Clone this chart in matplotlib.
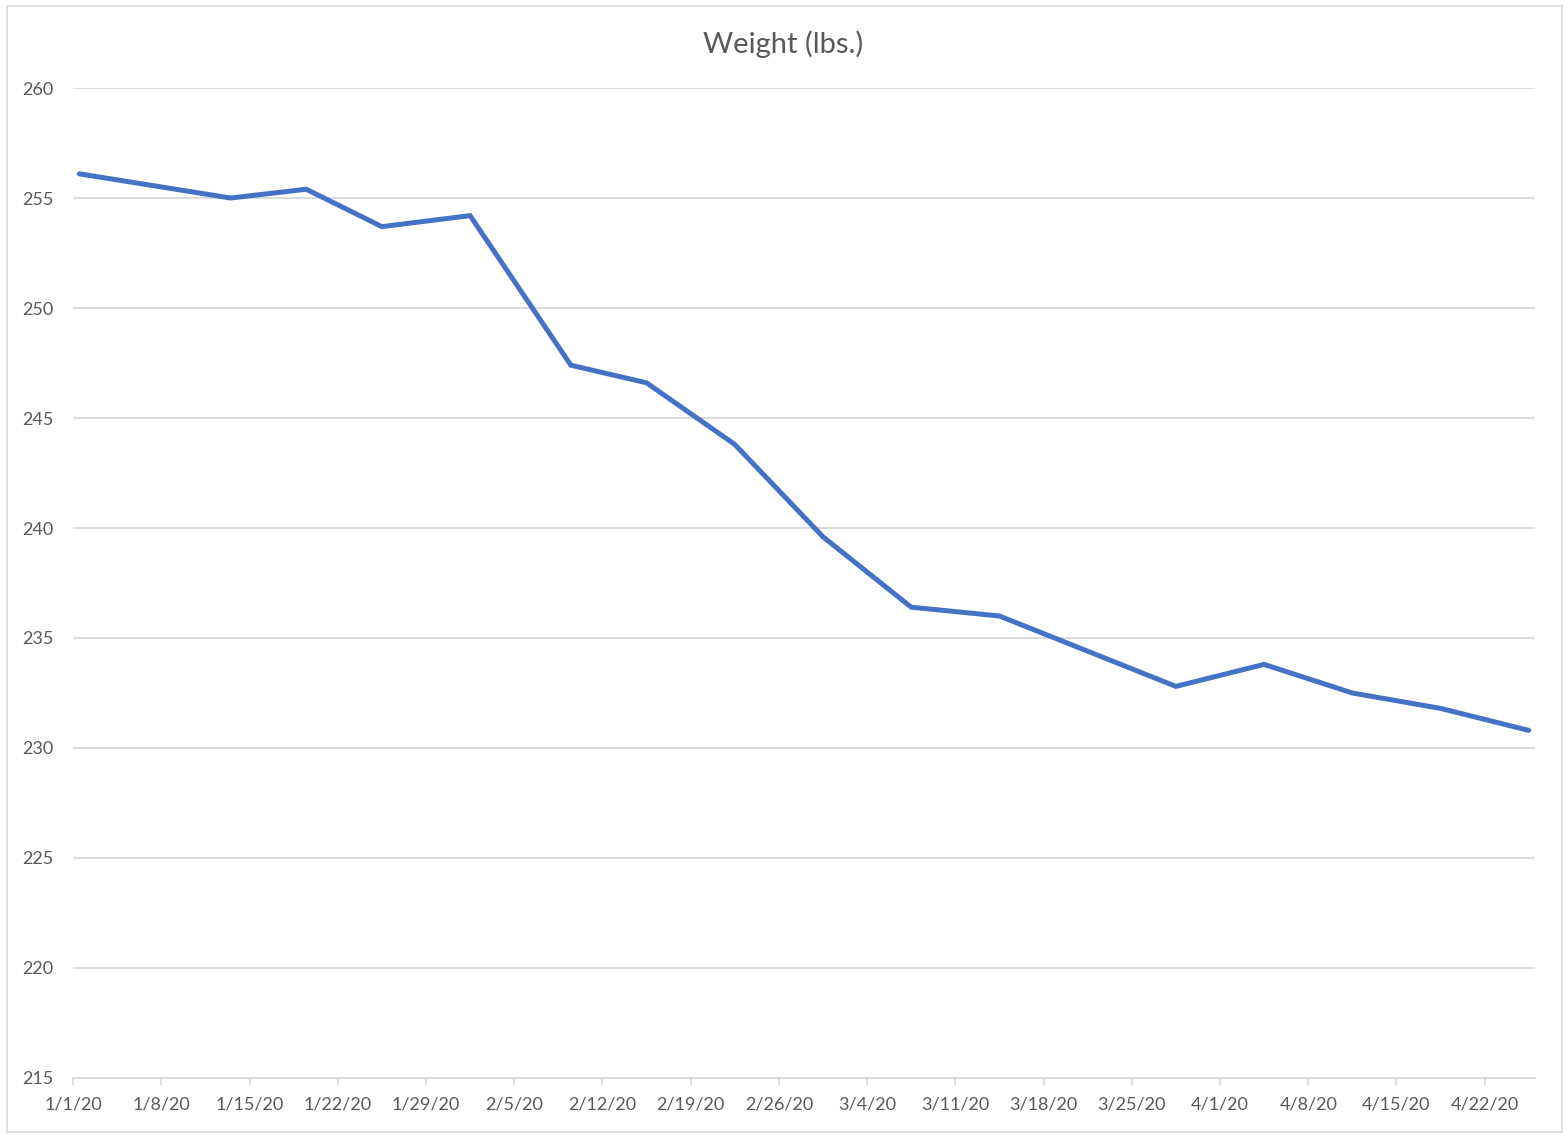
import numpy as np
import pandas as pd
import matplotlib
matplotlib.use("Agg")
import matplotlib.pyplot as plt
import matplotlib.dates as mdates
from matplotlib.patches import Rectangle
from matplotlib.ticker import FuncFormatter

# data
dates = ["2020-01-01", "2020-01-13", "2020-01-19", "2020-01-25", "2020-02-01",
         "2020-02-09", "2020-02-15", "2020-02-22", "2020-02-29", "2020-03-07",
         "2020-03-14", "2020-03-28", "2020-04-04", "2020-04-11", "2020-04-18",
         "2020-04-25"]
weights = [256.1, 255.0, 255.4, 253.7, 254.2,
           247.4, 246.6, 243.8, 239.6, 236.4,
           236.0, 232.8, 233.8, 232.5, 231.8,
           230.8]
title = "Weight (lbs.)"
yticks = [215, 220, 225, 230, 235, 240, 245, 250, 255, 260]

plt.rcParams['font.family'] = ['Lato', 'DejaVu Sans']
text_color = '#595959'
grid_color = '#D9D9D9'

# excel date axis puts each point in the middle of its day
x = pd.to_datetime(dates) + pd.Timedelta(hours=12)

fig = plt.figure(figsize=(15.68, 11.39), dpi=100)
fig.patches.append(Rectangle((0.0045, 0.006), 0.9915, 0.989, transform=fig.transFigure,
                             fill=False, edgecolor=grid_color, linewidth=1.2))
ax = fig.add_axes([0.0466, 0.0536, 0.9324, 0.8691])

ax.plot(x, weights, color='#4472C4', linewidth=3.6, solid_joinstyle='miter',
        solid_capstyle='round', zorder=3)

ax.set_ylim(215, 260)
ax.set_yticks(yticks)
ax.set_xlim(pd.Timestamp("2020-01-01"), pd.Timestamp("2020-04-26"))
ax.set_xticks(pd.date_range("2020-01-01", "2020-04-22", freq="7D"))
ax.xaxis.set_major_formatter(FuncFormatter(
    lambda v, p: "{}/{}/{}".format(mdates.num2date(v).month, mdates.num2date(v).day,
                                   mdates.num2date(v).year % 100)))

ax.grid(axis='y', color=grid_color, linewidth=1.3)
ax.set_axisbelow(True)
for s in ['top', 'right', 'left']:
    ax.spines[s].set_visible(False)
ax.spines['bottom'].set_color(grid_color)
ax.spines['bottom'].set_linewidth(1.3)

ax.tick_params(axis='y', length=0, pad=14, labelsize=13, labelcolor=text_color)
ax.tick_params(axis='x', length=5, width=1.3, color=grid_color, pad=8,
               labelsize=13, labelcolor=text_color)

fig.text(0.4995, 0.961, title, ha='center', va='center', fontsize=21, color=text_color)

fig.savefig("out.png", dpi=100)
